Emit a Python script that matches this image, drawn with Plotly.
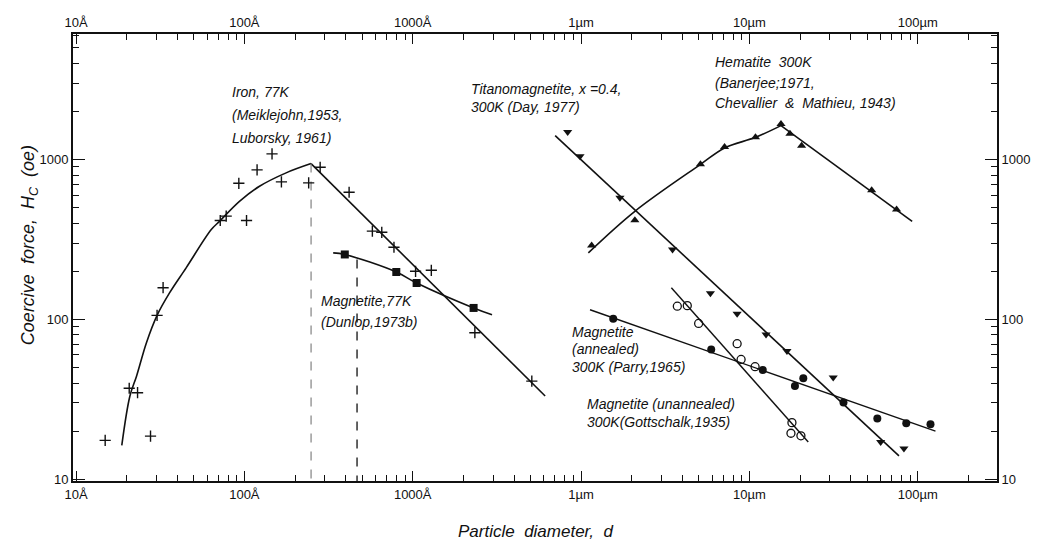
import plotly.graph_objects as go

# Particle diameter d in nm, coercive force Hc in Oe

# Iron, 77K (Meiklejohn 1953, Luborsky 1961)
iron_d = [1.49, 2.07, 2.32, 2.77, 3.03, 3.29, 7.19, 7.80, 9.27, 10.3, 11.9, 14.6,
          16.6, 24.1, 28.2, 41.9, 57.6, 65.5, 77.4, 104, 129, 234, 510]
iron_hc = [17.5, 37.1, 34.8, 18.6, 106, 158, 416, 443, 711, 416, 862, 1086,
           726, 715, 895, 625, 357, 351, 283, 200, 203, 82.6, 41.1]
iron_rise_d = [1.87, 2.09, 2.29, 2.62, 3.03, 3.60, 4.52, 6.36, 7.12, 9.35, 12.3, 17.7, 24.9]
iron_rise_hc = [16.3, 33.2, 44.3, 71.5, 106, 147, 211, 365, 411, 548, 681, 826, 944]
iron_fall_d = [24.9, 612]
iron_fall_hc = [944, 33.2]

# Magnetite, 77K (Dunlop 1973b)
mag77_d = [39.5, 79.9, 105.5, 230]
mag77_hc = [255, 198, 169, 118]
mag77_fit_d = [33.7, 39.5, 79.9, 105.5, 230, 296]
mag77_fit_hc = [261, 255, 198, 169, 118, 107]

# Titanomagnetite x=0.4, 300K (Day 1977)
tm_d = [833, 986, 1702, 3496, 5868, 8458, 12560, 16720, 31480, 60240, 82830]
tm_hc = [1489, 1049, 577, 274, 146, 108.5, 80.6, 63.4, 43.3, 17.1, 15.6]
tm_fit_d = [702, 77400]
tm_fit_hc = [1413, 14.0]

# Hematite 300K (Banerjee 1971, Chevallier & Mathieu 1943)
hem_d = [1156, 2088, 5120, 7122, 10870, 15410, 17420, 20430, 53280, 74900]
hem_hc = [290, 417, 937, 1200, 1378, 1671, 1449, 1223, 643, 487]
hem_rise_d = [1105, 2088, 5106, 7122, 10870, 15410]
hem_rise_hc = [261, 475, 931, 1183, 1378, 1632]
hem_fall_d = [15410, 92700]
hem_fall_hc = [1632, 411]

# Magnetite (annealed) 300K (Parry 1965)
parry_d = [1553, 5934, 12010, 20910, 18650, 36230, 57560, 85500, 119100]
parry_hc = [101, 64.9, 48.2, 42.8, 38.3, 30.2, 24.0, 22.4, 22.1]
parry_fit_d = [1131, 127500]
parry_fit_hc = [115, 20.0]

# Magnetite (unannealed) 300K (Gottschalk 1935)
gott_d = [3732, 4277, 4995, 8458, 8930, 10810, 17900, 17660, 20240]
gott_hc = [121, 122, 94.4, 70.5, 56.2, 50.6, 22.6, 19.4, 18.7]
gott_fit_d = [3440, 22380]
gott_fit_hc = [158, 17.1]

# Single-domain/multidomain boundary markers (d, Hc at top of dashed line)
bound_d = [24.9, 46.7]
bound_hc = [944, 237]

# Axis ticks
x_tick_vals = [1, 10, 100, 1000, 10000, 100000]
x_tick_text = ["10Å", "100Å", "1000Å", "1µm", "10µm", "100µm"]
y_tick_vals = [10, 100, 1000]
y_tick_text = ["10", "100", "1000"]

X_RANGE = [-0.018, 5.471]
Y_RANGE = [0.989, 3.786]

x_minor = [m * 10 ** e for e in range(0, 6) for m in range(2, 10)]
y_minor = [m * 10 ** e for e in range(0, 4) for m in range(2, 10)]

FONT = "Liberation Sans"
BLACK = "#111111"

fig = go.Figure()


def line(xs, ys, shape="linear", dash=None, width=1.6, color=BLACK):
    fig.add_trace(go.Scatter(x=xs, y=ys, mode="lines", line_shape=shape,
                             line=dict(color=color, width=width, dash=dash),
                             hoverinfo="skip", showlegend=False))


def points(xs, ys, symbol, size=8, lw=1.5):
    fig.add_trace(go.Scatter(x=xs, y=ys, mode="markers", showlegend=False,
                             marker=dict(symbol=symbol, size=size, color=BLACK,
                                         line=dict(color=BLACK, width=lw))))


# fitted curves
line(iron_rise_d, iron_rise_hc, shape="spline")
line(iron_fall_d, iron_fall_hc)
line(mag77_fit_d, mag77_fit_hc, shape="spline")
line(tm_fit_d, tm_fit_hc)
line(hem_rise_d, hem_rise_hc, shape="spline")
line(hem_fall_d, hem_fall_hc)
line(parry_fit_d, parry_fit_hc, width=1.4)
line(gott_fit_d, gott_fit_hc, width=1.4)

# dashed drop lines to the axis
y_floor = 10 ** Y_RANGE[0]
line([bound_d[0], bound_d[0]], [bound_hc[0], y_floor], dash="dash", width=1.1, color="#777777")
line([bound_d[1], bound_d[1]], [bound_hc[1], y_floor], dash="dash", width=1.3)

# data points
points(iron_d, iron_hc, "cross-thin", size=8, lw=1.4)
points(mag77_d, mag77_hc, "square", size=8, lw=0)
points(tm_d, tm_hc, "triangle-down", size=8, lw=0)
points(hem_d, hem_hc, "triangle-up", size=8, lw=0)
points(parry_d, parry_hc, "circle", size=8, lw=0)
points(gott_d, gott_hc, "circle-open", size=8, lw=1.3)

# empty trace so the top and right axes are drawn
fig.add_trace(go.Scatter(x=[], y=[], xaxis="x2", yaxis="y2", showlegend=False))

tickfont = dict(family=FONT, size=13, color=BLACK)
axis_common = dict(type="log", showgrid=False, zeroline=False, showline=True,
                   linecolor=BLACK, linewidth=1.8, ticks="inside",
                   tickcolor=BLACK, tickwidth=1.2, tickfont=tickfont,
                   tickmode="array")

xa = dict(axis_common, range=X_RANGE, tickvals=x_tick_vals, ticktext=x_tick_text,
          ticklen=10,
          minor=dict(tickmode="array", tickvals=x_minor, ticks="inside",
                     ticklen=6, tickwidth=1, tickcolor=BLACK, showgrid=False))
ya = dict(axis_common, range=Y_RANGE, tickvals=y_tick_vals, ticktext=y_tick_text,
          ticklen=12,
          minor=dict(tickmode="array", tickvals=y_minor, ticks="inside",
                     ticklen=6, tickwidth=1, tickcolor=BLACK, showgrid=False))

L, R, T, B = 73, 42, 34, 65
W, H = 1042, 546
PW, PH = W - L - R, H - T - B


def px(x):
    return (x - L) / PW


def py(y):
    return (H - B - y) / PH


labels = [
    ("Iron, 77K", 231, 92),
    ("(Meiklejohn,1953,", 231, 115),
    ("Luborsky, 1961)", 231, 138),
    ("Magnetite,77K", 320, 301),
    ("(Dunlop,1973b)", 320, 322),
    ("Titanomagnetite, x =0.4,", 470, 89),
    ("300K (Day, 1977)", 470, 107),
    ("Hematite  300K", 715, 62),
    ("(Banerjee;1971,", 715, 83),
    ("Chevallier  &  Mathieu, 1943)", 715, 103),
    ("Magnetite", 572, 332),
    ("(annealed)", 572, 349),
    ("300K (Parry,1965)", 572, 367),
    ("Magnetite (unannealed)", 587, 404),
    ("300K(Gottschalk,1935)", 587, 422),
]

annotations = []
for text, x0, y0 in labels:
    annotations.append(dict(text="<i>" + text + "</i>", x=px(x0), y=py(y0),
                            xref="paper", yref="paper", xanchor="left",
                            yanchor="middle", showarrow=False,
                            font=dict(family=FONT, size=14, color=BLACK)))

annotations.append(dict(text="<i>Particle  diameter,  d</i>", x=px(538), y=py(531),
                        xref="paper", yref="paper", xanchor="center", yanchor="middle",
                        showarrow=False, font=dict(family=FONT, size=17, color=BLACK)))
annotations.append(dict(text="<i>Coercive  force,  H<sub>C</sub>  (oe)</i>", x=px(29),
                        y=py(245), xref="paper", yref="paper", xanchor="center",
                        yanchor="middle", textangle=-90, showarrow=False,
                        font=dict(family=FONT, size=18, color=BLACK)))

fig.update_layout(
    width=W, height=H,
    margin=dict(l=L, r=R, t=T, b=B),
    paper_bgcolor="white", plot_bgcolor="white",
    showlegend=False,
    xaxis=dict(xa, side="bottom"),
    xaxis2=dict(xa, side="top", overlaying="x"),
    yaxis=dict(ya, side="left"),
    yaxis2=dict(ya, side="right", overlaying="y"),
    annotations=annotations,
)

fig.write_html("out.html")
